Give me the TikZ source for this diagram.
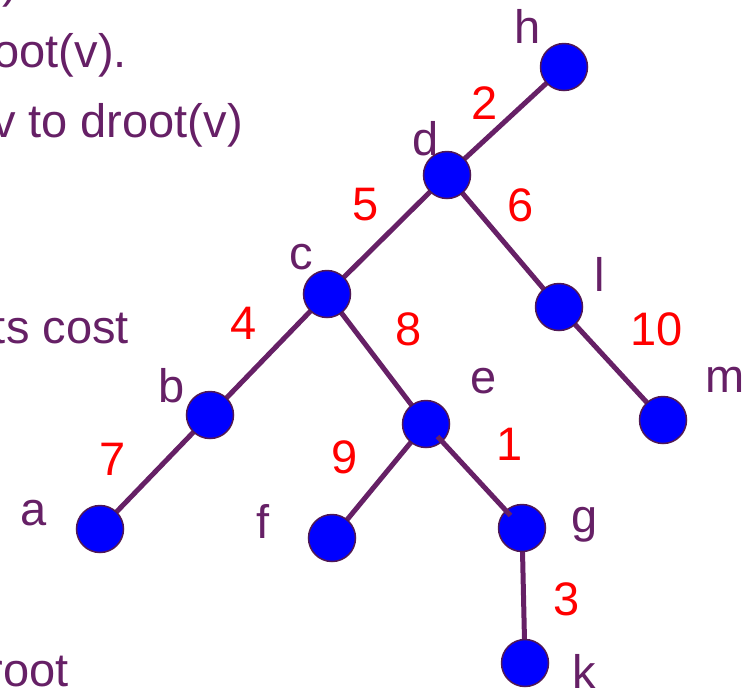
\documentclass[tikz,border=0pt]{standalone}
\usepackage{fontspec}
\setmainfont{Liberation Sans}
\usetikzlibrary{calc,backgrounds}
\definecolor{plum}{RGB}{102,32,102}
\definecolor{rim}{RGB}{80,25,85}
\begin{document}
\begin{tikzpicture}[x=1pt,y=-1pt,
  vert/.style={circle,fill=blue,draw=rim,line width=1.5pt,minimum size=47pt,inner sep=0pt},
  edge/.style={draw=plum,line width=5pt},
  lbl/.style={text=plum,font=\fontsize{47}{56}\selectfont,anchor=base,inner sep=0pt},
  wt/.style={text=red,font=\fontsize{47}{56}\selectfont,anchor=base,inner sep=0pt},
  txt/.style={text=plum,font=\fontsize{47}{56}\selectfont,anchor=base east,inner sep=0pt}]
\useasboundingbox (0,0) rectangle (753,689);
\clip (0,0) rectangle (753,689);

% text fragments on the left
\node[txt] (t0) at (18,-3) {)};
\node[txt] (t1) at (127,67) {droot(v).};
\node[txt] (t2) at (243,137) {v to droot(v)};
\node[txt] (t3) at (129,343) {ts cost};
\node[txt] (t4) at (69,686) {root};

% vertices
\node[vert] (h) at (564,67) {};
\node[vert] (d) at (447,175) {};
\node[vert] (c) at (327,294) {};
\node[vert] (l) at (559,307) {};
\node[vert] (b) at (210,415) {};
\node[vert] (e) at (426,424) {};
\node[vert] (m) at (663,420) {};
\node[vert] (a) at (100,529) {};
\node[vert] (f) at (332,538) {};
\node[vert] (g) at (522,528) {};
\node[vert] (k) at (525,663) {};

% edges behind the vertices
\begin{scope}[on background layer]
\draw[edge] (h.center) -- (d.center);
\draw[edge] (d.center) -- (c.center);
\draw[edge] (d.center) -- (l.center);
\draw[edge] (l.center) -- (m.center);
\draw[edge] (c.center) -- (b.center);
\draw[edge] (b.center) -- (a.center);
\draw[edge] (c.center) -- (e.center);
\draw[edge] (e.center) -- (f.center);
\draw[edge] (g.center) -- (k.center);
\end{scope}
% edge drawn over the vertices
\draw[edge] ($(e.center)!0.12!(g.center)$) -- ($(g.center)!0.12!(e.center)$);

% vertex names
\node[lbl] (lh) at (528,43) {h};
\node[lbl] (ld) at (426,155) {d};
\node[lbl] (lc) at (301,269) {c};
\node[lbl] (ll) at (600,291) {l};
\node[lbl] (lb) at (172,402) {b};
\node[lbl] (le) at (484,393) {e};
\node[lbl] (lm) at (725,392) {m};
\node[lbl] (la) at (34,525) {a};
\node[lbl] (lf) at (263,538) {f};
\node[lbl] (lg) at (585,532) {g};
\node[lbl] (lk) at (584,688) {k};

% edge weights
\node[wt] (w2) at (485,119) {2};
\node[wt] (w5) at (366,220) {5};
\node[wt] (w6) at (521,221) {6};
\node[wt] (w4) at (244,339) {4};
\node[wt] (w8) at (409,345) {8};
\node[wt] (w10) at (657,345) {10};
\node[wt] (w7) at (113,475) {7};
\node[wt] (w9) at (345,473) {9};
\node[wt] (w1) at (510,460) {1};
\node[wt] (w3) at (567,615) {3};
\end{tikzpicture}
\end{document}
